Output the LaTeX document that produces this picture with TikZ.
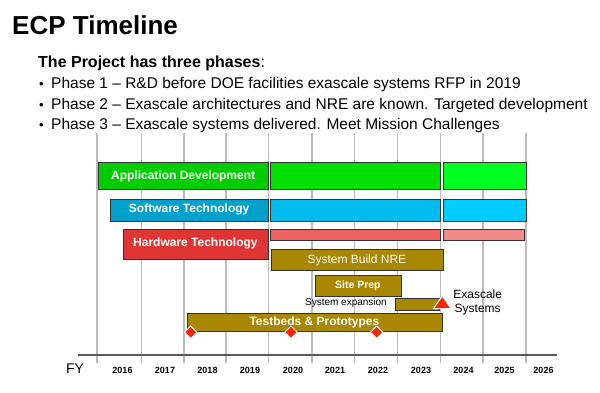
\documentclass[tikz,border=0pt]{standalone}
\usepackage{fontspec}
\setmainfont{Liberation Sans}
\usepackage{tikz}
\usetikzlibrary{positioning}
\usetikzlibrary{shapes.geometric}

\definecolor{appgreenA}{HTML}{00CC00}
\definecolor{appgreenB}{HTML}{00E000}
\definecolor{appgreenC}{HTML}{00FF22}
\definecolor{swblueA}{HTML}{00A0CC}
\definecolor{swblueB}{HTML}{00BBEE}
\definecolor{swblueC}{HTML}{00CCFF}
\definecolor{hwredA}{HTML}{E03535}
\definecolor{hwredB}{HTML}{F06262}
\definecolor{hwredC}{HTML}{F28A8A}
\definecolor{sysgold}{HTML}{AA8700}
\definecolor{milered}{HTML}{FF2200}
\definecolor{gridgray}{HTML}{BBBBBB}
\definecolor{axisgray}{HTML}{5A5A5A}
\definecolor{barline}{HTML}{333333}

\tikzset{
  bar/.style={draw=barline, line width=0.8pt, inner sep=0pt, anchor=north west,
    text=white, font=\bfseries\fontsize{12}{14}\selectfont},
  grid line/.style={draw=gridgray, line width=1.3pt},
  year/.style={font=\bfseries\fontsize{9}{11}\selectfont},
  phase/.style={anchor=base west, inner sep=0pt, font=\fontsize{15.5}{19}\selectfont},
  milestone/.style={diamond, fill=milered, draw=white, line width=1pt,
    minimum width=13pt, minimum height=13pt, inner sep=0pt}
}

\begin{document}
\begin{tikzpicture}[x=1pt,y=-1pt]
  \useasboundingbox (0,0) rectangle (600,392);

  \node[anchor=base west, inner sep=0pt, font=\bfseries\fontsize{26}{30}\selectfont] (title) at (12,34) {ECP Timeline};
  \node[phase, font=\fontsize{16}{19}\selectfont] (intro) at (38,67) {{\bfseries The Project has three phases}:};
  \node[phase, font=\fontsize{13}{19}\selectfont] (dot1) at (39,88.5) {\textbullet};
  \node[phase, font=\fontsize{13}{19}\selectfont] (dot2) at (39,109) {\textbullet};
  \node[phase, font=\fontsize{13}{19}\selectfont] (dot3) at (39,129) {\textbullet};
  \node[phase] (phase1) at (51,88.5) {Phase 1 – R\&D before DOE facilities exascale systems RFP in 2019};
  \node[phase] (phase2) at (51,109) {Phase 2 – Exascale architectures and NRE are known. Targeted development};
  \node[phase] (phase3) at (51,129) {Phase 3 – Exascale systems delivered. Meet Mission Challenges};

  \draw[grid line] (97,133) -- (97,363);
  \draw[grid line] (141.5,133) -- (141.5,363);
  \draw[grid line] (184,133) -- (184,363);
  \draw[grid line] (226,133) -- (226,363);
  \draw[grid line] (268.5,133) -- (268.5,363);
  \draw[grid line] (312,133) -- (312,363);
  \draw[grid line] (354.5,133) -- (354.5,363);
  \draw[grid line] (397.5,133) -- (397.5,363);
  \draw[grid line] (440.5,133) -- (440.5,363);
  \draw[grid line] (483,133) -- (483,363);
  \draw[grid line] (526,133) -- (526,363);
  \draw[draw=axisgray, line width=2pt] (78,354.5) -- (557,354.5);

  \node[font=\fontsize{14}{16}\selectfont] (fy) at (75,369) {FY};
  \node[year] (y2016) at (122.5,370) {2016};
  \node[year] (y2017) at (165,370) {2017};
  \node[year] (y2018) at (207.5,370) {2018};
  \node[year] (y2019) at (250,370) {2019};
  \node[year] (y2020) at (293,370) {2020};
  \node[year] (y2021) at (335,370) {2021};
  \node[year] (y2022) at (378,370) {2022};
  \node[year] (y2023) at (421,370) {2023};
  \node[year] (y2024) at (463.5,370) {2024};
  \node[year] (y2025) at (504.5,370) {2025};
  \node[year] (y2026) at (543.5,370) {2026};

  \node[bar, fill=appgreenA, minimum width=169.5pt, minimum height=27pt] (appdev1) at (98,162) {Application Development};
  \node[bar, fill=appgreenB, minimum width=169.5pt, minimum height=27pt] (appdev2) at (270,162) {};
  \node[bar, fill=appgreenC, minimum width=83.5pt, minimum height=27pt] (appdev3) at (442.5,162) {};

  \node[bar, fill=swblueA, minimum width=157.5pt, minimum height=22pt] (swtech1) at (110,198.5) {Software Technology};
  \node[bar, fill=swblueB, minimum width=169.5pt, minimum height=22pt] (swtech2) at (270,198.5) {};
  \node[bar, fill=swblueC, minimum width=83.5pt, minimum height=22pt] (swtech3) at (442.5,198.5) {};

  \node[bar, fill=hwredA, minimum width=145pt, minimum height=30pt] (hwtech1) at (122.5,228.5) {Hardware Technology};
  \node[bar, fill=hwredB, minimum width=169.5pt, minimum height=11pt] (hwtech2) at (270,228.5) {};
  \node[bar, fill=hwredC, minimum width=81pt, minimum height=11pt] (hwtech3) at (442.5,228.5) {};

  \node[bar, fill=sysgold, minimum width=172pt, minimum height=21pt, font=\fontsize{12}{14}\selectfont] (sysnre) at (270.5,249) {System Build NRE};
  \node[bar, fill=sysgold, minimum width=86pt, minimum height=21pt, font=\bfseries\fontsize{10.5}{12}\selectfont] (siteprep) at (314.5,274.5) {Site Prep};
  \node[bar, fill=sysgold, minimum width=44pt, minimum height=12pt] (sysexp) at (394.5,297.5) {};
  \node[anchor=east, font=\fontsize{10}{12}\selectfont, inner sep=0pt] (sysexplabel) at (387,303) {System expansion};
  \filldraw[fill=milered, draw=white, line width=1pt] (442.3,296) -- (433.5,308.5) -- (451,308.5) -- cycle;
  \node[align=center, font=\fontsize{12}{13.5}\selectfont, inner sep=0pt] (exascale) at (477.7,302.5) {Exascale\\Systems};

  \node[bar, fill=sysgold, minimum width=255pt, minimum height=18.5pt] (testbeds) at (186.5,312.5) {Testbeds \& Prototypes};
  \node[milestone] (ms1) at (190.7,332.3) {};
  \node[milestone] (ms2) at (291,332.3) {};
  \node[milestone] (ms3) at (376.7,332.3) {};
\end{tikzpicture}
\end{document}
